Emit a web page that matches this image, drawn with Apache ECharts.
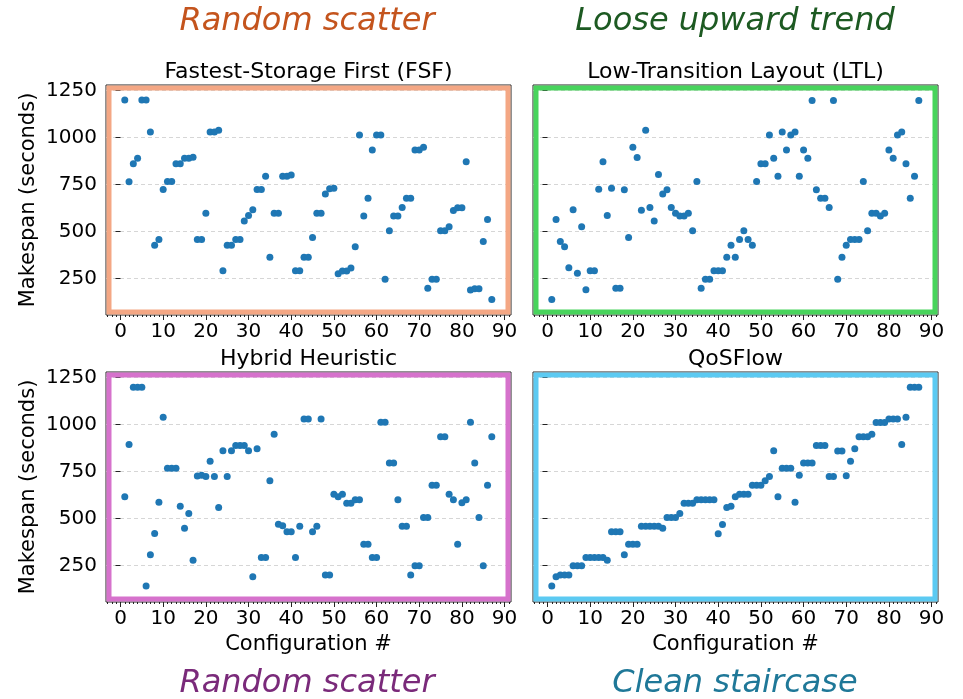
<!DOCTYPE html>
<html>
<head>
<meta charset="utf-8">
<script src="https://cdn.jsdelivr.net/npm/echarts@6/dist/echarts.min.js"></script>
<style>
  html, body { margin: 0; padding: 0; background: #fff; }
  #chart { width: 963px; height: 699px; }
</style>
</head>
<body>
<div id="chart"></div>
<script>
/* 配置编号 1..87 */
var configs = [1,2,3,4,5,6,7,8,9,10,11,12,13,14,15,16,17,18,19,20,21,22,23,24,25,26,27,28,29,30,
  31,32,33,34,35,36,37,38,39,40,41,42,43,44,45,46,47,48,49,50,51,52,53,54,55,56,57,58,59,60,
  61,62,63,64,65,66,67,68,69,70,71,72,73,74,75,76,77,78,79,80,81,82,83,84,85,86,87];

var fsf = [1200,765,860,890,1200,1200,1030,427,457,723,766,766,860,860,890,890,895,457,457,597,
  1030,1030,1039,291,427,427,457,457,555,585,615,723,723,794,363,597,597,794,794,801,
  291,291,363,363,468,597,597,700,727,730,275,289,289,305,418,1014,582,677,934,1014,
  1014,246,504,582,582,628,677,677,934,934,949,197,246,246,504,504,525,612,626,626,
  871,188,195,195,447,564,138];

var ltl = [138,564,447,418,307,615,277,525,190,291,291,725,871,585,730,197,197,722,468,949,
  894,613,1039,628,555,803,700,722,628,597,582,582,597,504,766,197,246,246,291,291,
  291,363,427,363,457,504,457,427,766,860,860,1014,890,794,1030,934,1014,1030,794,934,
  890,1197,722,677,677,628,1197,246,363,427,457,457,457,766,504,597,597,582,597,934,
  890,1014,1030,860,677,794,1197];

var hybrid = [615,894,1199,1199,1199,140,307,420,586,1039,767,767,767,565,448,526,278,726,730,723,
  804,724,558,861,724,861,889,889,889,861,190,871,292,292,701,949,469,461,429,429,
  292,459,1030,1030,429,459,1030,199,199,629,615,629,581,581,599,599,363,363,292,292,
  1013,1013,795,795,599,459,459,199,248,248,505,505,677,677,935,935,629,600,363,583,
  599,1013,795,505,248,677,935];

var qosflow = [140,190,199,199,199,248,248,248,292,292,292,292,292,278,429,429,429,307,363,363,
  363,459,459,459,459,459,448,505,505,505,526,581,581,581,600,600,600,600,600,418,
  468,558,565,615,629,629,629,677,677,677,701,723,861,615,767,767,767,586,730,795,
  795,795,889,889,889,723,723,859,859,727,804,871,935,935,935,949,1011,1011,1011,1030,
  1030,1030,894,1039,1199,1199,1199];

var yTicks = [250, 500, 750, 1000, 1250];
var xTicks = [0, 10, 20, 30, 40, 50, 60, 70, 80, 90];
var xMinorTicks = [];
for (var t = -3; t <= 91; t++) { xMinorTicks.push(t); }

var panelTitles = ['Fastest-Storage First (FSF)', 'Low-Transition Layout (LTL)', 'Hybrid Heuristic', 'QoSFlow'];
var panelData = [fsf, ltl, hybrid, qosflow];
var frameColors = ['#f4a784', '#48d45c', '#d672cc', '#5ccaf2'];

var font = 'DejaVu Sans';
var pos = [
  {left: 106, top: 85},
  {left: 533, top: 85},
  {left: 106, top: 372},
  {left: 533, top: 372}
];
var W = 405, H = 230;

var chart = echarts.init(document.getElementById('chart'));

var grids = [], xAxes = [], yAxes = [], series = [], graphics = [];

pos.forEach(function (p, i) {
  grids.push({
    left: p.left, top: p.top, width: W, height: H,
    show: true, borderColor: '#222', borderWidth: 1, backgroundColor: 'transparent'
  });
  var bottomRow = i >= 2;
  var leftCol = i % 2 === 0;
  xAxes.push({
    type: 'value', gridIndex: i, min: -3.4, max: 91.5,
    axisLine: {show: false},
    axisTick: {show: true, length: 5, customValues: xTicks, lineStyle: {color: '#222'}},
    axisLabel: {show: true, customValues: xTicks, margin: 7, color: '#000', fontSize: 20, fontFamily: font},
    splitLine: {show: false},
    name: bottomRow ? 'Configuration #' : '',
    nameLocation: 'middle', nameGap: 32,
    nameTextStyle: {color: '#000', fontSize: 21, fontFamily: font}
  });
  // 小刻度
  xAxes.push({
    type: 'value', gridIndex: i, min: -3.4, max: 91.5, position: 'bottom',
    axisLine: {show: false},
    axisTick: {show: true, length: 2, customValues: xMinorTicks, lineStyle: {color: '#222'}},
    axisLabel: {show: false},
    splitLine: {show: false}
  });
  yAxes.push({
    type: 'value', gridIndex: i, min: 55, max: 1280,
    axisLine: {show: false},
    axisTick: {show: true, length: 5, customValues: yTicks, lineStyle: {color: '#222'}},
    axisLabel: {
      show: leftCol, customValues: yTicks, margin: 9, color: '#000', fontSize: 20, fontFamily: font,
      formatter: function (v) { return String(v); }
    },
    splitLine: {show: true, lineStyle: {color: '#cccccc', type: [4, 3], width: 0.8}},
    name: leftCol ? 'Makespan (seconds)' : '',
    nameLocation: 'middle', nameGap: 67,
    nameTextStyle: {color: '#000', fontSize: 21, fontFamily: font}
  });
  series.push({
    type: 'scatter', xAxisIndex: i * 2, yAxisIndex: i,
    symbolSize: 7,
    itemStyle: {color: '#1f77b4', opacity: 1},
    z: 5,
    data: configs.map(function (c, k) { return [c, panelData[i][k]]; })
  });
  graphics.push({
    type: 'rect', z: 3,
    shape: {x: p.left + 3, y: p.top + 3, width: W - 6, height: H - 6},
    style: {fill: 'none', stroke: frameColors[i], lineWidth: 5}
  });
  graphics.push({
    type: 'text', z: 10,
    style: {
      x: p.left + W / 2, y: p.top - 13, text: panelTitles[i],
      fill: '#000', font: '22px "DejaVu Sans"', textAlign: 'center', textVerticalAlign: 'middle'
    }
  });
});

var notes = [
  {text: 'Random scatter', x: 307, y: 22, color: '#c4541d'},
  {text: 'Loose upward trend', x: 735, y: 22, color: '#1d5a22'},
  {text: 'Random scatter', x: 307, y: 684, color: '#7a2a7a'},
  {text: 'Clean staircase', x: 735, y: 684, color: '#1f7898'}
];
notes.forEach(function (n) {
  graphics.push({
    type: 'text', z: 10,
    style: {
      x: n.x, y: n.y, text: n.text, fill: n.color,
      font: 'italic 32px "DejaVu Sans"', textAlign: 'center', textVerticalAlign: 'middle'
    }
  });
});

chart.setOption({
  backgroundColor: '#fff',
  animation: false,
  grid: grids,
  xAxis: xAxes,
  yAxis: yAxes,
  series: series,
  graphic: graphics
});
</script>
</body>
</html>
